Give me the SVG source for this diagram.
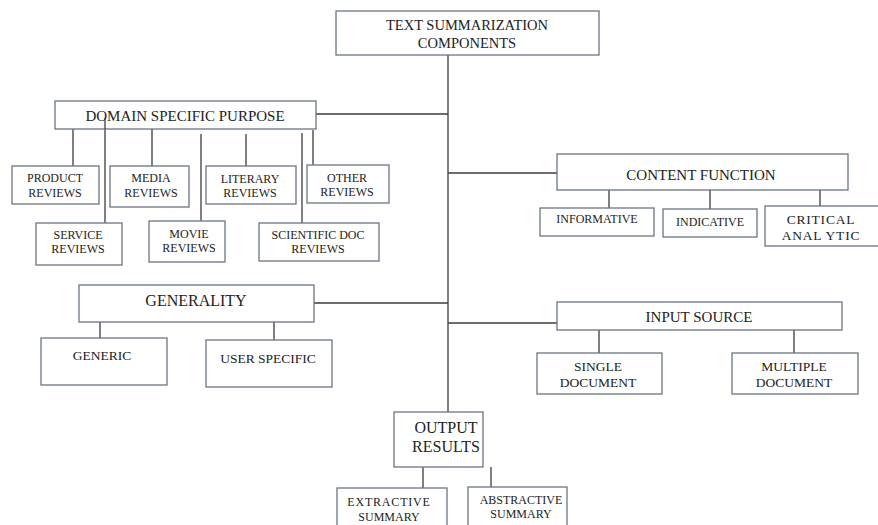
<svg xmlns="http://www.w3.org/2000/svg" width="878" height="525" viewBox="0 0 878 525">
<style>
.b{fill:#fff;stroke:#6a7684;stroke-width:1.3}
.c line{stroke:#3c3c3c;stroke-width:1.3}
text{font-family:"Liberation Serif","Times New Roman",serif;fill:#222;text-anchor:middle}
.s{font-size:12px}
.m{font-size:13.5px}
.h{font-size:15px}
.g{font-size:16px}
</style>
<rect width="878" height="525" fill="#fff"/>
<g class="c" id="connectors">
<line x1="448" y1="55" x2="448" y2="412"/>
<line x1="316" y1="114" x2="448" y2="114"/>
<line x1="448" y1="173" x2="557" y2="173"/>
<line x1="314" y1="303" x2="448" y2="303"/>
<line x1="448" y1="323" x2="557" y2="323"/>
<line x1="73" y1="129" x2="73" y2="166"/>
<line x1="105" y1="118" x2="105" y2="223"/>
<line x1="152" y1="129" x2="152" y2="166"/>
<line x1="201" y1="134" x2="201" y2="221"/>
<line x1="246" y1="134" x2="246" y2="166"/>
<line x1="302" y1="133" x2="302" y2="223"/>
<line x1="313" y1="130" x2="313" y2="165"/>
<line x1="609" y1="190" x2="609" y2="208"/>
<line x1="710" y1="190" x2="710" y2="209"/>
<line x1="820" y1="190" x2="820" y2="206"/>
<line x1="100" y1="322" x2="100" y2="338"/>
<line x1="274" y1="322" x2="274" y2="340"/>
<line x1="599" y1="330" x2="599" y2="353"/>
<line x1="794" y1="330" x2="794" y2="353"/>
<line x1="423" y1="467" x2="423" y2="488"/>
<line x1="491" y1="467" x2="491" y2="487"/>
</g>
<g id="root"><rect class="b" x="336" y="11" width="263" height="44"/><text x="467" y="30" style="font-size:14.5px">TEXT SUMMARIZATION</text><text x="467" y="48" style="font-size:14.5px">COMPONENTS</text></g>
<g id="domain"><rect class="b" x="55" y="101" width="261" height="28"/><text class="h" x="185" y="121">DOMAIN SPECIFIC PURPOSE</text></g>
<line x1="105" y1="118" x2="105" y2="129" stroke="#3c3c3c" stroke-width="1.3"/>
<g id="product"><rect class="b" x="12" y="166" width="87" height="38"/><text class="s" x="55" y="182">PRODUCT</text><text class="s" x="55" y="197">REVIEWS</text></g>
<g id="service"><rect class="b" x="36" y="223" width="86" height="42"/><text class="s" x="78" y="239">SERVICE</text><text class="s" x="78" y="253">REVIEWS</text></g>
<g id="media"><rect class="b" x="110" y="166" width="79" height="41"/><text class="s" x="151" y="182">MEDIA</text><text class="s" x="151" y="197">REVIEWS</text></g>
<g id="movie"><rect class="b" x="149" y="221" width="76" height="41"/><text class="s" x="189" y="238">MOVIE</text><text class="s" x="189" y="252">REVIEWS</text></g>
<g id="literary"><rect class="b" x="206" y="166" width="90" height="38"/><text class="s" x="250" y="183">LITERARY</text><text class="s" x="250" y="197">REVIEWS</text></g>
<g id="scientific"><rect class="b" x="259" y="223" width="120" height="38"/><text class="s" x="318" y="239">SCIENTIFIC DOC</text><text class="s" x="318" y="253">REVIEWS</text></g>
<g id="other"><rect class="b" x="307" y="165" width="82" height="38"/><text class="s" x="347" y="182">OTHER</text><text class="s" x="347" y="196">REVIEWS</text></g>
<g id="content"><rect class="b" x="557" y="154" width="291" height="36"/><text class="h" x="701" y="180">CONTENT FUNCTION</text></g>
<g id="informative"><rect class="b" x="540" y="208" width="114" height="28"/><text class="s" x="597" y="223">INFORMATIVE</text></g>
<g id="indicative"><rect class="b" x="663" y="209" width="94" height="28"/><text class="s" x="710" y="226">INDICATIVE</text></g>
<g id="critical"><rect class="b" x="765" y="206" width="115" height="40"/><text class="m" x="821" y="224" letter-spacing="0.8">CRITICAL</text><text class="m" x="821" y="240" letter-spacing="0.8">ANAL YTIC</text></g>
<g id="generality"><rect class="b" x="79" y="285" width="235" height="37"/><text class="g" x="196" y="306">GENERALITY</text></g>
<g id="generic"><rect class="b" x="41" y="338" width="126" height="47"/><text class="m" x="102" y="360">GENERIC</text></g>
<g id="userspecific"><rect class="b" x="206" y="340" width="126" height="47"/><text class="m" x="268" y="363">USER SPECIFIC</text></g>
<g id="input"><rect class="b" x="557" y="302" width="285" height="28"/><text class="h" x="699" y="322">INPUT SOURCE</text></g>
<g id="single"><rect class="b" x="537" y="353" width="125" height="41"/><text class="m" x="598" y="371">SINGLE</text><text class="m" x="598" y="387">DOCUMENT</text></g>
<g id="multiple"><rect class="b" x="732" y="353" width="126" height="41"/><text class="m" x="794" y="371">MULTIPLE</text><text class="m" x="794" y="387">DOCUMENT</text></g>
<g id="output"><rect class="b" x="394" y="412" width="89" height="55"/><text class="g" x="446" y="433">OUTPUT</text><text class="g" x="446" y="452">RESULTS</text></g>
<g id="extractive"><rect class="b" x="337" y="488" width="110" height="45"/><text class="s" x="389" y="506" letter-spacing="0.8">EXTRACTIVE</text><text class="s" x="389" y="521">SUMMARY</text></g>
<g id="abstractive"><rect class="b" x="468" y="487" width="99" height="45"/><text class="s" x="521" y="504">ABSTRACTIVE</text><text class="s" x="521" y="518">SUMMARY</text></g>
</svg>
